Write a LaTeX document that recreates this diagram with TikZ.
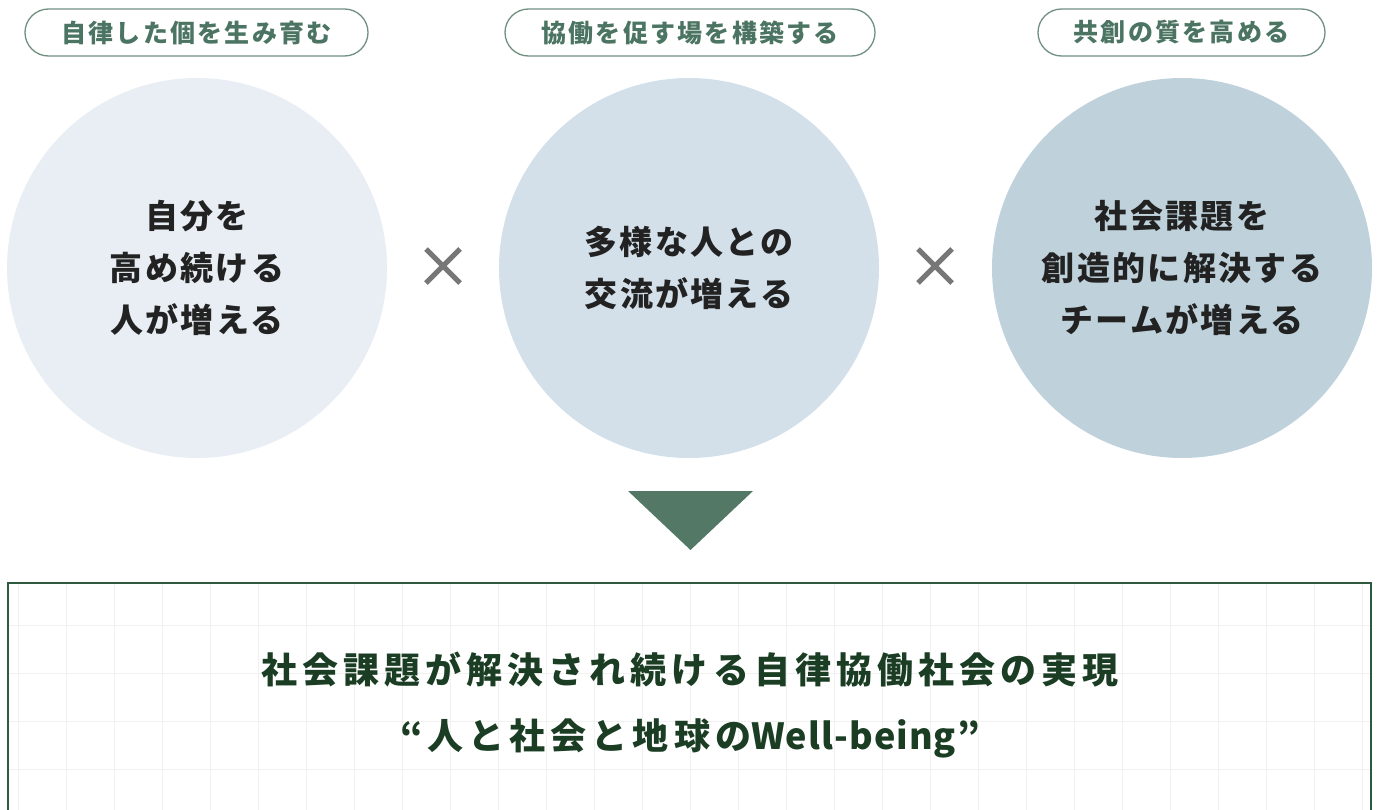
\documentclass[tikz,border=0pt]{standalone}
\usepackage{fontspec}
\newfontfamily\jpA[LetterSpace=9]{Noto Sans CJK JP}
\newfontfamily\jpB[LetterSpace=7]{Noto Sans CJK JP}
\newfontfamily\jpC[LetterSpace=14]{Noto Sans CJK JP}
\newfontfamily\jpD[LetterSpace=3]{Noto Sans CJK JP}
\definecolor{pillline}{HTML}{6F8F80}
\definecolor{pilltext}{HTML}{4B7462}
\definecolor{circA}{HTML}{E8EEF3}
\definecolor{circB}{HTML}{D3E0EA}
\definecolor{circC}{HTML}{BFD2DC}
\definecolor{circtext}{HTML}{222222}
\definecolor{tri}{HTML}{537866}
\definecolor{boxline}{HTML}{2F5A3F}
\definecolor{gridc}{HTML}{F1F1F1}
\definecolor{maintext}{HTML}{1A3D24}
\definecolor{crossc}{HTML}{777777}
\tikzset{
  pill/.style={draw=pillline, line width=1.3pt, rounded corners=23.5pt, minimum height=47pt, inner sep=0pt, text=pilltext, font=\jpA\bfseries\fontsize{25}{28}\selectfont},
  bigcirc/.style={circle, minimum size=380pt, inner sep=0pt},
  circtxt/.style={align=center, text=circtext, font=\jpB\bfseries\fontsize{33}{52}\selectfont},
  crossline/.style={draw=crossc, line width=5pt},
}
\begin{document}
\begin{tikzpicture}[x=1pt,y=-1pt]
\useasboundingbox (0,0) rectangle (1381,809);
% pills
\node[pill, minimum width=343pt] (p1) at (196.5,32.5) {自律した個を生み育む};
\node[pill, minimum width=370pt] (p2) at (690,32.5) {協働を促す場を構築する};
\node[pill, minimum width=287pt] (p3) at (1181.5,32.5) {共創の質を高める};
% circles
\node[bigcirc, fill=circA] (c1) at (197,268) {};
\node[bigcirc, fill=circB] (c2) at (689,268) {};
\node[bigcirc, fill=circC] (c3) at (1182,268) {};
\node[circtxt] (t1) at (c1) {自分を\\高め続ける\\人が増える};
\node[circtxt] (t2) at (c2) {多様な人との\\交流が増える};
\node[circtxt] (t3) at (c3) {社会課題を\\創造的に解決する\\チームが増える};
% crosses
\coordinate (x1) at (443,266);
\coordinate (x2) at (935,266);
\foreach \c in {x1,x2}{
  \draw[crossline] ([shift={(-17,-17)}]\c) -- ([shift={(17,17)}]\c);
  \draw[crossline] ([shift={(-17,17)}]\c) -- ([shift={(17,-17)}]\c);
}
% triangle
\fill[tri] (628,491) -- (753,491) -- (690.5,550) -- cycle;
% bottom box
\begin{scope}
\clip (0,0) rectangle (1381,809);
\begin{scope}
\clip (8,583) rectangle (1371,830);
\foreach \gx in {18,66,...,1370} \draw[gridc, line width=1pt] (\gx,583) -- (\gx,830);
\foreach \gy in {625,673,...,820} \draw[gridc, line width=1pt] (8,\gy) -- (1371,\gy);
\end{scope}
\draw[boxline, line width=2pt] (8,830) -- (8,583) -- (1371,583) -- (1371,830);
\end{scope}
\node[align=center, text=maintext, font=\jpC\bfseries\fontsize{36}{66}\selectfont] (m) at (690,705) {社会課題が解決され続ける自律協働社会の実現\\“人と社会と地球の{\jpD\bfseries Well-being”}};
\end{tikzpicture}
\end{document}
